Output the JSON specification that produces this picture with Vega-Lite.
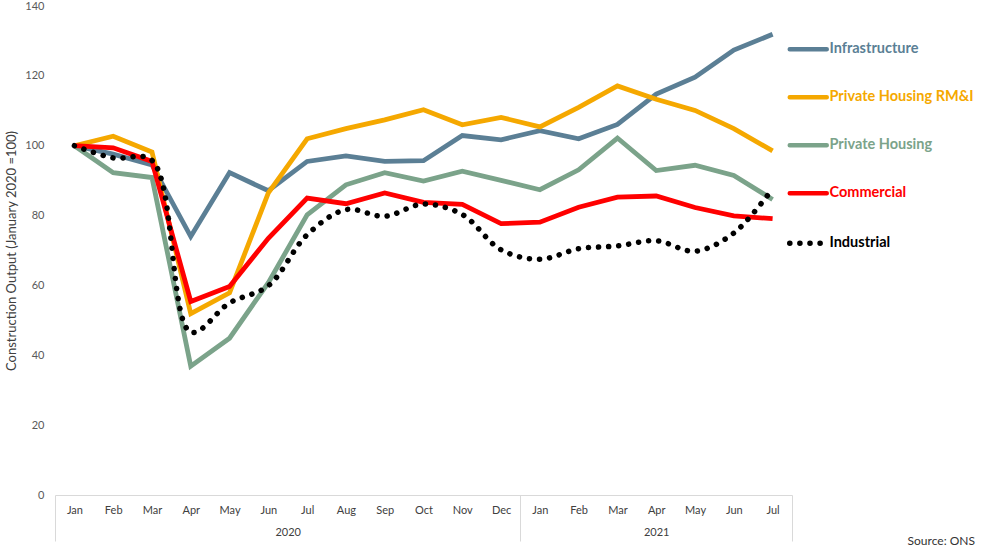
{
  "$schema": "https://vega.github.io/schema/vega-lite/v6.json",
  "width": 737,
  "height": 489,
  "autosize": {"type": "none"},
  "padding": {"left": 55, "top": 6, "right": 192, "bottom": 56},
  "background": "white",
  "title": {"text": "Source: ONS", "orient": "bottom", "anchor": "end", "frame": "group", "dx": 183, "offset": -6, "fontSize": 12, "fontWeight": "normal", "font": "Lato", "color": "#333333"},
  "config": {
    "view": {"stroke": null},
    "axis": {"grid": false, "labelFont": "Lato", "titleFont": "Lato"}
  },
  "data": {
    "values": [
      {"i": 0, "Infrastructure": 100, "Private Housing RM&I": 100, "Private Housing": 100, "Commercial": 100, "Industrial": 100},
      {"i": 1, "Infrastructure": 97.6, "Private Housing RM&I": 102.7, "Private Housing": 92.3, "Commercial": 99.4, "Industrial": 96.5},
      {"i": 2, "Infrastructure": 94.5, "Private Housing RM&I": 98.2, "Private Housing": 90.9, "Commercial": 95.5, "Industrial": 95.8},
      {"i": 3, "Infrastructure": 74.0, "Private Housing RM&I": 51.9, "Private Housing": 36.9, "Commercial": 55.4, "Industrial": 46.6},
      {"i": 4, "Infrastructure": 92.3, "Private Housing RM&I": 57.9, "Private Housing": 44.9, "Commercial": 59.7, "Industrial": 55.0},
      {"i": 5, "Infrastructure": 87.1, "Private Housing RM&I": 86.5, "Private Housing": 60.8, "Commercial": 73.5, "Industrial": 59.9},
      {"i": 6, "Infrastructure": 95.5, "Private Housing RM&I": 102.0, "Private Housing": 80.2, "Commercial": 85.0, "Industrial": 74.5},
      {"i": 7, "Infrastructure": 97.1, "Private Housing RM&I": 104.9, "Private Housing": 88.8, "Commercial": 83.4, "Industrial": 81.7},
      {"i": 8, "Infrastructure": 95.5, "Private Housing RM&I": 107.4, "Private Housing": 92.3, "Commercial": 86.5, "Industrial": 79.8},
      {"i": 9, "Infrastructure": 95.7, "Private Housing RM&I": 110.3, "Private Housing": 89.9, "Commercial": 83.8, "Industrial": 83.3},
      {"i": 10, "Infrastructure": 102.9, "Private Housing RM&I": 106.0, "Private Housing": 92.7, "Commercial": 83.2, "Industrial": 80.3},
      {"i": 11, "Infrastructure": 101.7, "Private Housing RM&I": 108.1, "Private Housing": 90.1, "Commercial": 77.7, "Industrial": 70.2},
      {"i": 12, "Infrastructure": 104.3, "Private Housing RM&I": 105.4, "Private Housing": 87.4, "Commercial": 78.1, "Industrial": 67.5},
      {"i": 13, "Infrastructure": 102.0, "Private Housing RM&I": 111.0, "Private Housing": 93.1, "Commercial": 82.4, "Industrial": 70.5},
      {"i": 14, "Infrastructure": 106.1, "Private Housing RM&I": 117.1, "Private Housing": 102.2, "Commercial": 85.3, "Industrial": 71.3},
      {"i": 15, "Infrastructure": 114.8, "Private Housing RM&I": 113.3, "Private Housing": 92.9, "Commercial": 85.6, "Industrial": 72.8},
      {"i": 16, "Infrastructure": 119.6, "Private Housing RM&I": 110.1, "Private Housing": 94.4, "Commercial": 82.3, "Industrial": 69.8},
      {"i": 17, "Infrastructure": 127.4, "Private Housing RM&I": 104.9, "Private Housing": 91.5, "Commercial": 79.9, "Industrial": 75.0},
      {"i": 18, "Infrastructure": 131.9, "Private Housing RM&I": 98.5, "Private Housing": 84.6, "Commercial": 79.1, "Industrial": 87.7}
    ]
  },
  "transform": [
    {"fold": ["Infrastructure", "Private Housing RM&I", "Private Housing", "Commercial", "Industrial"], "as": ["series", "value"]}
  ],
  "encoding": {
    "y": {
      "field": "value",
      "type": "quantitative",
      "scale": {"domain": [0, 140], "nice": false, "zero": true},
      "axis": {
        "values": [0, 20, 40, 60, 80, 100, 120, 140],
        "title": "Construction Output (January 2020 =100)",
        "titleFontSize": 13,
        "titleFontWeight": "normal",
        "titleColor": "#404040",
        "titlePadding": 6,
        "domain": false,
        "ticks": false,
        "labelPadding": 11,
        "labelFontSize": 11,
        "labelColor": "#595959"
      }
    },
    "color": {
      "field": "series",
      "type": "nominal",
      "scale": {
        "domain": ["Infrastructure", "Private Housing RM&I", "Private Housing", "Commercial", "Industrial"],
        "range": ["#5B7F95", "#F5A800", "#7BA38A", "#FF0000", "#000000"]
      },
      "legend": {
        "orient": "none",
        "legendX": 746,
        "legendY": 36,
        "title": null,
        "symbolType": "stroke",
        "symbolSize": 1369,
        "symbolStrokeWidth": 4.5,
        "labelFont": "Lato",
        "labelFontSize": 14.5,
        "labelFontWeight": "bold",
        "labelOffset": 14,
        "labelLimit": 300,
        "rowPadding": 29,
        "encode": {
          "labels": {"update": {"fill": {"scale": "color", "field": "value"}}},
          "symbols": {"update": {
            "strokeDash": {"signal": "datum.value === 'Industrial' ? [0.1, 10] : [1, 0]"},
            "strokeCap": {"value": "round"},
            "strokeWidth": {"signal": "datum.value === 'Industrial' ? 5.5 : 4.5"}
          }}
        }
      }
    }
  },
  "layer": [
    {
      "transform": [{"filter": "datum.series !== 'Industrial' && datum.series !== 'Commercial'"}],
      "mark": {"type": "line", "strokeWidth": 4.8},
      "encoding": {
        "x": {
          "field": "i",
          "type": "quantitative",
          "scale": {"domain": [-0.5, 18.5], "nice": false, "zero": false},
          "axis": {
            "orient": "bottom",
            "title": null,
            "values": [0, 1, 2, 3, 4, 5, 6, 7, 8, 9, 10, 11, 12, 13, 14, 15, 16, 17, 18],
            "labelExpr": "['Jan','Feb','Mar','Apr','May','Jun','Jul','Aug','Sep','Oct','Nov','Dec','Jan','Feb','Mar','Apr','May','Jun','Jul'][datum.value]",
            "ticks": false,
            "domain": true,
            "domainColor": "#d9d9d9",
            "labelPadding": 9,
            "labelFontSize": 11,
            "labelColor": "#404040",
            "labelFlush": false
          }
        }
      }
    },
    {
      "transform": [{"filter": "datum.series === 'Commercial'"}],
      "mark": {"type": "line", "strokeWidth": 4.8},
      "encoding": {
        "x": {
          "field": "i",
          "type": "quantitative",
          "axis": {
            "orient": "bottom",
            "title": null,
            "values": [-0.5, 11.5, 18.5],
            "labels": false,
            "domain": false,
            "ticks": true,
            "tickSize": 46,
            "tickColor": "#d9d9d9"
          }
        }
      }
    },
    {
      "transform": [{"filter": "datum.series === 'Industrial'"}],
      "mark": {"type": "line", "strokeWidth": 5.5, "strokeDash": [0.1, 10], "strokeCap": "round", "interpolate": "catmull-rom"},
      "encoding": {
        "x": {
          "field": "i",
          "type": "quantitative",
          "axis": {
            "orient": "bottom",
            "title": null,
            "values": [5.5, 15],
            "labelExpr": "datum.value < 10 ? '2020' : '2021'",
            "ticks": false,
            "domain": false,
            "labelPadding": 31,
            "labelFontSize": 11,
            "labelColor": "#404040",
            "labelFlush": false
          }
        }
      }
    }
  ],
  "resolve": {"axis": {"x": "independent"}}
}
